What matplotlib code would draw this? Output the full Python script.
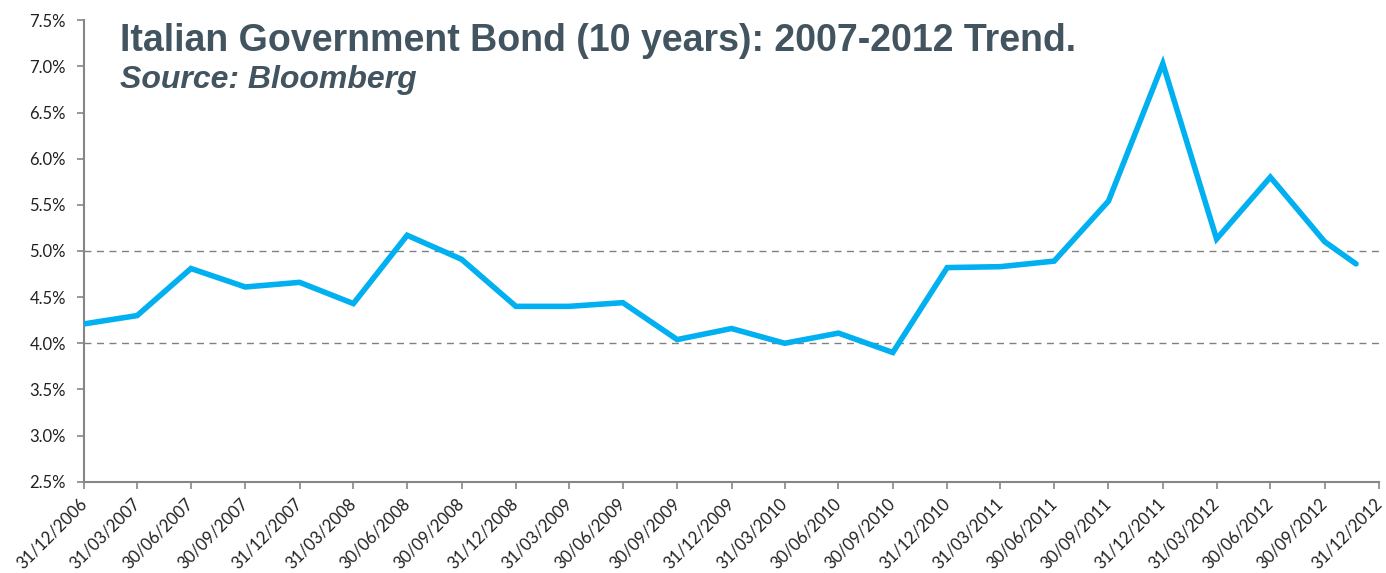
import matplotlib
matplotlib.use("Agg")
import matplotlib.pyplot as plt
import pandas as pd

# Italian 10-year government bond yield (%), quarter ends plus the latest reading
dates = [
    "2006-12-31", "2007-03-31", "2007-06-30", "2007-09-30", "2007-12-31",
    "2008-03-31", "2008-06-30", "2008-09-30", "2008-12-31", "2009-03-31",
    "2009-06-30", "2009-09-30", "2009-12-31", "2010-03-31", "2010-06-30",
    "2010-09-30", "2010-12-31", "2011-03-31", "2011-06-30", "2011-09-30",
    "2011-12-31", "2012-03-31", "2012-06-30", "2012-09-30", "2012-11-22",
]
yields = [
    4.21, 4.30, 4.81, 4.61, 4.66,
    4.43, 5.17, 4.91, 4.40, 4.40,
    4.44, 4.04, 4.16, 4.00, 4.11,
    3.90, 4.82, 4.83, 4.89, 5.54,
    7.03, 5.13, 5.80, 5.10, 4.86,
]
tick_dates = [
    "2006-12-31", "2007-03-31", "2007-06-30", "2007-09-30", "2007-12-31",
    "2008-03-31", "2008-06-30", "2008-09-30", "2008-12-31", "2009-03-31",
    "2009-06-30", "2009-09-30", "2009-12-31", "2010-03-31", "2010-06-30",
    "2010-09-30", "2010-12-31", "2011-03-31", "2011-06-30", "2011-09-30",
    "2011-12-31", "2012-03-31", "2012-06-30", "2012-09-30", "2012-12-31",
]
y_ticks = [2.5, 3.0, 3.5, 4.0, 4.5, 5.0, 5.5, 6.0, 6.5, 7.0, 7.5]
grid_levels = [4.0, 5.0]

title = "Italian Government Bond (10 years): 2007-2012 Trend."
subtitle = "Source: Bloomberg"

x = pd.to_datetime(dates)
xt = pd.to_datetime(tick_dates)

fig = plt.figure(figsize=(13.86, 5.73), dpi=100)
ax = fig.add_axes([0.0606, 0.1593, 0.9344, 0.8054])

axis_grey = "#868686"
label_font = "Lato"

for lvl in grid_levels:
    ax.axhline(lvl, color="#808080", lw=1.0, ls=(0, (5, 4)), zorder=1)

ax.plot(x, yields, color="#00B0F0", lw=4.0, solid_joinstyle="miter",
        solid_capstyle="round", zorder=3)

ax.set_xlim(xt[0], xt[-1])
ax.set_ylim(y_ticks[0], y_ticks[-1])

ax.set_yticks(y_ticks)
ax.set_yticklabels([f"{v:.1f}%" for v in y_ticks], fontsize=12,
                   fontfamily=label_font, color="#202020")
ax.set_xticks(xt)
ax.set_xticklabels([d.strftime("%d/%m/%Y") for d in xt], fontsize=12,
                   fontfamily=label_font, color="#202020",
                   rotation=45, ha="right", va="center",
                   rotation_mode="anchor")

for side in ("top", "right"):
    ax.spines[side].set_visible(False)
for side in ("left", "bottom"):
    ax.spines[side].set_color(axis_grey)
    ax.spines[side].set_linewidth(1.5)
ax.tick_params(axis="both", direction="out", color=axis_grey, width=1.2,
               length=5)
ax.tick_params(axis="y", pad=8)
ax.tick_params(axis="x", pad=9)

fig.text(0.0866, 0.911, title, fontsize=27, fontweight="bold",
         fontfamily="Liberation Sans", color="#435461", va="baseline")
fig.text(0.0866, 0.846, subtitle, fontsize=23, fontweight="bold",
         fontstyle="italic", fontfamily="Liberation Sans", color="#435461",
         va="baseline")

fig.savefig("out.png", dpi=100)
